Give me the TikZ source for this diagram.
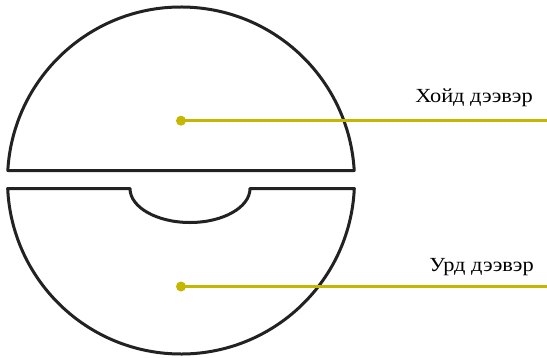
\documentclass[tikz,border=0pt]{standalone}
\usepackage{fontspec}
\setmainfont{Liberation Serif}
\newfontfamily\lblfont[FakeStretch=1.12]{Liberation Serif}
\definecolor{leadcol}{RGB}{197,183,0}
\definecolor{partcol}{RGB}{34,34,34}
\begin{document}
\begin{tikzpicture}[x=1pt,y=-1pt,
  part/.style={draw=partcol, line width=3pt, line join=round},
  lead/.style={draw=leadcol, line width=2.7pt},
  dot/.style={circle, fill=leadcol, inner sep=0pt, minimum size=10pt},
  lbl/.style={font=\lblfont\fontsize{20}{24}\selectfont, anchor=base east, inner sep=0pt}]
\useasboundingbox (0,0) rectangle (547,357);
% upper part (Хойд дээвэр)
\draw[part] (7.8,170.5) arc[start angle=183.3, end angle=356.7, radius=173.5] -- cycle;
% lower part (Урд дээвэр)
\draw[part] (7.7,188.5) -- (130,188.5)
  arc[start angle=180, end angle=0, x radius=60, y radius=34]
  -- (354.3,188.5)
  arc[start angle=2.64, end angle=177.36, radius=173.5] -- cycle;
% leaders
\node[dot] (hd) at (181,120.7) {};
\coordinate (he) at (547,120.7);
\draw[lead] (hd.center) -- (he);
\node[dot] (ud) at (181,286.5) {};
\coordinate (ue) at (547,286.5);
\draw[lead] (ud.center) -- (ue);
\node[lbl] (hl) at (533,102) {Хойд дээвэр};
\node[lbl] (ul) at (534,271) {Урд дээвэр};
\end{tikzpicture}
\end{document}
